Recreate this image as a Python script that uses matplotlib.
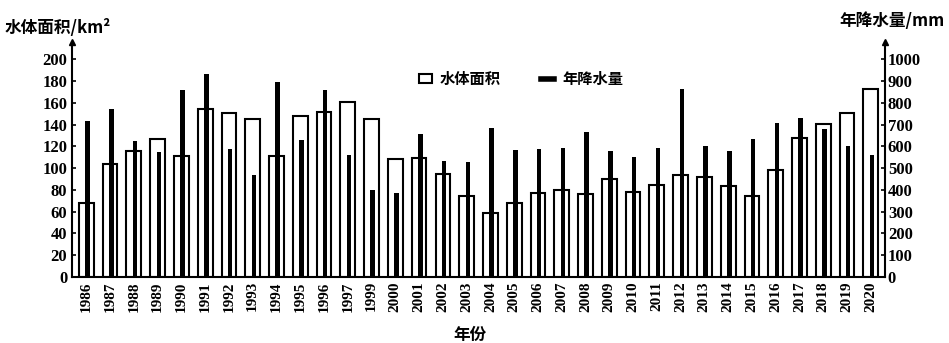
import numpy as np
import matplotlib.pyplot as plt
from matplotlib.lines import Line2D
from matplotlib.patches import Patch

years = ['1986', '1987', '1988', '1989', '1990', '1991', '1992', '1993', '1994',
         '1995', '1996', '1997', '1999', '2000', '2001', '2002', '2003', '2004',
         '2005', '2006', '2007', '2008', '2009', '2010', '2011', '2012', '2013',
         '2014', '2015', '2016', '2017', '2018', '2019', '2020']
area = [68, 104, 116, 127, 111, 154, 151, 145, 111, 148, 152, 161, 145, 108, 109,
        95, 74, 59, 68, 77, 80, 76, 90, 78, 85, 94, 92, 84, 74, 98, 128, 141, 151, 173]
rain = [716, 770, 627, 573, 858, 931, 590, 470, 895, 631, 858, 562, 401, 386, 659,
        531, 527, 685, 582, 588, 593, 665, 578, 550, 593, 865, 604, 578, 634, 708,
        731, 680, 604, 562]

num_font = ['Liberation Serif', 'Noto Sans CJK SC']
cjk_font = ['Noto Sans CJK SC', 'DejaVu Sans']
plt.rcParams['font.family'] = num_font

fig = plt.figure(figsize=(9.49, 3.43), dpi=100)
ax = fig.add_axes([0.0759, 0.1924, 0.8567, 0.6852])
x = np.arange(len(years))

ax.bar(x, area, width=0.62, facecolor='white', edgecolor='black', linewidth=1.5, zorder=2)
ax.set_xlim(-0.6, len(years) - 0.4)
ax.set_ylim(0, 216)
ax.set_yticks(range(0, 201, 20))
ax.set_xticks(x)
ax.set_xticklabels(years, rotation=90, fontsize=11, fontweight='bold')
ax.tick_params(axis='y', direction='in', length=3, width=1.2, labelsize=12)
ax.tick_params(axis='x', length=0, pad=3)
for lbl in ax.get_yticklabels():
    lbl.set_fontweight('bold')

ax2 = ax.twinx()
ax2.bar(x + 0.05, rain, width=0.19, color='black', zorder=3)
ax2.set_ylim(0, 1080)
ax2.set_yticks(range(0, 1001, 100))
ax2.tick_params(axis='y', direction='in', length=3, width=1.2, labelsize=12, pad=2)
for lbl in ax2.get_yticklabels():
    lbl.set_fontweight('bold')

for a in (ax, ax2):
    a.spines['top'].set_visible(False)
    for s in a.spines.values():
        s.set_linewidth(1.5)
ax.spines['right'].set_visible(False)
ax2.spines['left'].set_visible(False)
ax2.spines['bottom'].set_visible(False)

# arrow heads on the vertical axes
ax.plot(0, 1, marker='^', color='black', markersize=5, transform=ax.transAxes, clip_on=False)
ax.plot(1, 1, marker='^', color='black', markersize=5, transform=ax.transAxes, clip_on=False)

handles = [Patch(facecolor='white', edgecolor='black', linewidth=1.5),
           Line2D([], [], color='black', linewidth=4)]
ax.legend(handles, ['水体面积', '年降水量'], loc='upper center', bbox_to_anchor=(0.552, 0.935),
          ncol=2, frameon=False, prop={'family': cjk_font, 'size': 11, 'weight': 'bold'},
          handlelength=0.9, handleheight=0.6, handletextpad=0.5, columnspacing=2.6)

fig.text(0.005, 0.905, '水体面积/km²', family=cjk_font, fontsize=12, fontweight='bold')
fig.text(0.995, 0.925, '年降水量/mm', family=cjk_font, fontsize=12, fontweight='bold', ha='right')
fig.text(0.495, 0.01, '年份', family=cjk_font, fontsize=12, fontweight='bold', ha='center')

fig.savefig('out.png', dpi=100)
